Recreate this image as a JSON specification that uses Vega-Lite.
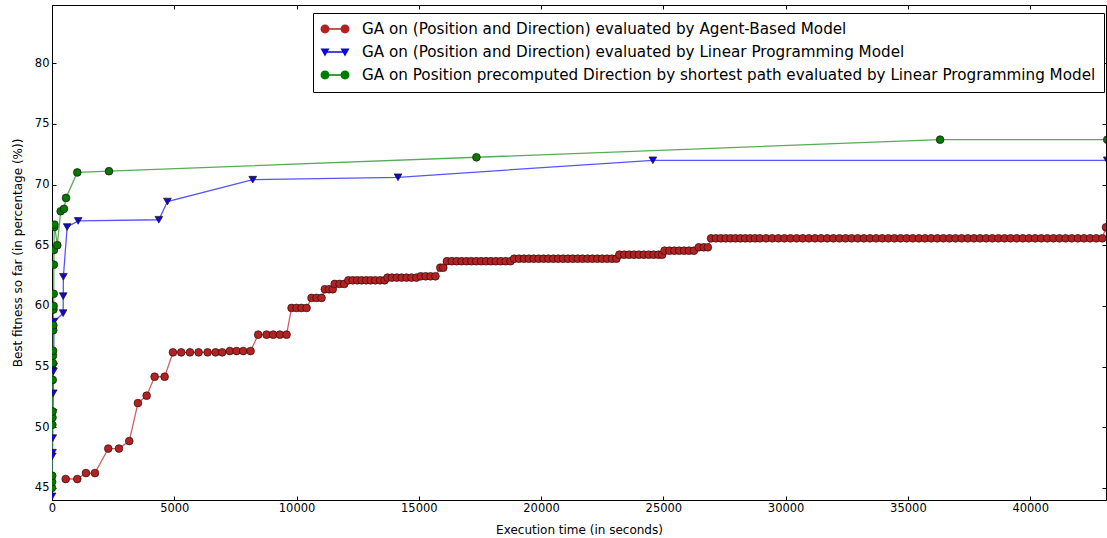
{
  "$schema": "https://vega.github.io/schema/vega-lite/v6.json",
  "width": 1054,
  "height": 495,
  "autosize": {"type": "none"},
  "padding": {"left": 52, "top": 5, "right": 1, "bottom": 38},
  "background": "white",
  "config": {
    "view": {"stroke": "black", "strokeWidth": 1},
    "font": "DejaVu Sans",
    "axis": {
      "grid": false,
      "domainColor": "black",
      "tickColor": "black",
      "labelColor": "black",
      "titleColor": "black",
      "labelFont": "DejaVu Sans",
      "titleFont": "DejaVu Sans",
      "labelFontSize": 11.5,
      "titleFontSize": 12,
      "titleFontWeight": "normal",
      "labelFlush": false,
      "labelOverlap": false
    }
  },
  "data": {
    "values": [
      {"s":"A","x":560,"y":45.73},{"s":"A","x":1034,"y":45.73},{"s":"A","x":1389,"y":46.22},{"s":"A","x":1757,"y":46.22},
      {"s":"A","x":2301,"y":48.24},{"s":"A","x":2738,"y":48.24},{"s":"A","x":3159,"y":48.86},{"s":"A","x":3514,"y":51.99},
      {"s":"A","x":3870,"y":52.6},{"s":"A","x":4197,"y":54.16},{"s":"A","x":4606,"y":54.16},{"s":"A","x":4945,"y":56.17},
      {"s":"A","x":5284,"y":56.17},{"s":"A","x":5640,"y":56.17},{"s":"A","x":5995,"y":56.17},{"s":"A","x":6363,"y":56.17},
      {"s":"A","x":6690,"y":56.17},{"s":"A","x":6960,"y":56.17},{"s":"A","x":7274,"y":56.28},{"s":"A","x":7548,"y":56.28},
      {"s":"A","x":7818,"y":56.28},{"s":"A","x":8120,"y":56.28},{"s":"A","x":8431,"y":57.63},{"s":"A","x":8774,"y":57.63},
      {"s":"A","x":9044,"y":57.63},{"s":"A","x":9318,"y":57.63},{"s":"A","x":9591,"y":57.63},{"s":"A","x":9796,"y":59.83},
      {"s":"A","x":10000,"y":59.83},{"s":"A","x":10204,"y":59.83},{"s":"A","x":10409,"y":59.83},{"s":"A","x":10613,"y":60.66},
      {"s":"A","x":10817,"y":60.66},{"s":"A","x":11022,"y":60.66},{"s":"A","x":11157,"y":61.37},{"s":"A","x":11330,"y":61.37},
      {"s":"A","x":11480,"y":61.37},{"s":"A","x":11560,"y":61.81},{"s":"A","x":11760,"y":61.81},{"s":"A","x":11950,"y":61.81},
      {"s":"A","x":12120,"y":62.11},{"s":"A","x":12300,"y":62.11},{"s":"A","x":12480,"y":62.11},{"s":"A","x":12660,"y":62.11},
      {"s":"A","x":12850,"y":62.11},{"s":"A","x":13030,"y":62.11},{"s":"A","x":13220,"y":62.11},{"s":"A","x":13420,"y":62.11},
      {"s":"A","x":13600,"y":62.11},{"s":"A","x":13720,"y":62.33},{"s":"A","x":13900,"y":62.33},{"s":"A","x":14100,"y":62.33},
      {"s":"A","x":14300,"y":62.33},{"s":"A","x":14500,"y":62.33},{"s":"A","x":14700,"y":62.33},{"s":"A","x":14900,"y":62.33},
      {"s":"A","x":15080,"y":62.44},{"s":"A","x":15280,"y":62.44},{"s":"A","x":15480,"y":62.44},{"s":"A","x":15680,"y":62.44},
      {"s":"A","x":15880,"y":63.15},{"s":"A","x":16000,"y":63.15},{"s":"A","x":16150,"y":63.68},{"s":"A","x":16350,"y":63.68},
      {"s":"A","x":16550,"y":63.68},{"s":"A","x":16750,"y":63.68},{"s":"A","x":16950,"y":63.68},{"s":"A","x":17150,"y":63.68},
      {"s":"A","x":17350,"y":63.68},{"s":"A","x":17550,"y":63.68},{"s":"A","x":17750,"y":63.68},{"s":"A","x":17950,"y":63.68},
      {"s":"A","x":18150,"y":63.68},{"s":"A","x":18350,"y":63.68},{"s":"A","x":18550,"y":63.68},{"s":"A","x":18750,"y":63.68},
      {"s":"A","x":18900,"y":63.89},{"s":"A","x":19100,"y":63.89},{"s":"A","x":19300,"y":63.89},{"s":"A","x":19500,"y":63.89},
      {"s":"A","x":19700,"y":63.89},{"s":"A","x":19900,"y":63.89},{"s":"A","x":20100,"y":63.89},{"s":"A","x":20300,"y":63.89},
      {"s":"A","x":20500,"y":63.89},{"s":"A","x":20700,"y":63.89},{"s":"A","x":20900,"y":63.89},{"s":"A","x":21100,"y":63.89},
      {"s":"A","x":21300,"y":63.89},{"s":"A","x":21500,"y":63.89},{"s":"A","x":21700,"y":63.89},{"s":"A","x":21900,"y":63.89},
      {"s":"A","x":22100,"y":63.89},{"s":"A","x":22300,"y":63.89},{"s":"A","x":22500,"y":63.89},{"s":"A","x":22700,"y":63.89},
      {"s":"A","x":22900,"y":63.89},{"s":"A","x":23080,"y":63.89},{"s":"A","x":23200,"y":64.22},{"s":"A","x":23400,"y":64.22},
      {"s":"A","x":23600,"y":64.22},{"s":"A","x":23800,"y":64.22},{"s":"A","x":24000,"y":64.22},{"s":"A","x":24200,"y":64.22},
      {"s":"A","x":24400,"y":64.22},{"s":"A","x":24600,"y":64.22},{"s":"A","x":24800,"y":64.22},{"s":"A","x":24950,"y":64.22},
      {"s":"A","x":25050,"y":64.55},{"s":"A","x":25250,"y":64.55},{"s":"A","x":25450,"y":64.55},{"s":"A","x":25650,"y":64.55},
      {"s":"A","x":25850,"y":64.55},{"s":"A","x":26050,"y":64.55},{"s":"A","x":26250,"y":64.55},{"s":"A","x":26450,"y":64.83},
      {"s":"A","x":26650,"y":64.83},{"s":"A","x":26820,"y":64.83},{"s":"A","x":26950,"y":65.57},{"s":"A","x":27150,"y":65.57},
      {"s":"A","x":27350,"y":65.57},{"s":"A","x":27550,"y":65.57},{"s":"A","x":27750,"y":65.57},{"s":"A","x":27950,"y":65.57},
      {"s":"A","x":28150,"y":65.57},{"s":"A","x":28350,"y":65.57},{"s":"A","x":28550,"y":65.57},{"s":"A","x":28750,"y":65.57},
      {"s":"A","x":28950,"y":65.57},{"s":"A","x":29200,"y":65.57},{"s":"A","x":29450,"y":65.57},{"s":"A","x":29700,"y":65.57},
      {"s":"A","x":29950,"y":65.57},{"s":"A","x":30200,"y":65.57},{"s":"A","x":30450,"y":65.57},{"s":"A","x":30700,"y":65.57},
      {"s":"A","x":30950,"y":65.57},{"s":"A","x":31200,"y":65.57},{"s":"A","x":31450,"y":65.57},{"s":"A","x":31700,"y":65.57},
      {"s":"A","x":31950,"y":65.57},{"s":"A","x":32200,"y":65.57},{"s":"A","x":32450,"y":65.57},{"s":"A","x":32700,"y":65.57},
      {"s":"A","x":32950,"y":65.57},{"s":"A","x":33200,"y":65.57},{"s":"A","x":33450,"y":65.57},{"s":"A","x":33700,"y":65.57},
      {"s":"A","x":33950,"y":65.57},{"s":"A","x":34200,"y":65.57},{"s":"A","x":34450,"y":65.57},{"s":"A","x":34700,"y":65.57},
      {"s":"A","x":34950,"y":65.57},{"s":"A","x":35200,"y":65.57},{"s":"A","x":35450,"y":65.57},{"s":"A","x":35700,"y":65.57},
      {"s":"A","x":35950,"y":65.57},{"s":"A","x":36200,"y":65.57},{"s":"A","x":36450,"y":65.57},{"s":"A","x":36700,"y":65.57},
      {"s":"A","x":36950,"y":65.57},{"s":"A","x":37200,"y":65.57},{"s":"A","x":37450,"y":65.57},{"s":"A","x":37700,"y":65.57},
      {"s":"A","x":37950,"y":65.57},{"s":"A","x":38200,"y":65.57},{"s":"A","x":38450,"y":65.57},{"s":"A","x":38700,"y":65.57},
      {"s":"A","x":38950,"y":65.57},{"s":"A","x":39200,"y":65.57},{"s":"A","x":39450,"y":65.57},{"s":"A","x":39700,"y":65.57},
      {"s":"A","x":39950,"y":65.57},{"s":"A","x":40200,"y":65.57},{"s":"A","x":40450,"y":65.57},{"s":"A","x":40700,"y":65.57},
      {"s":"A","x":40950,"y":65.57},{"s":"A","x":41200,"y":65.57},{"s":"A","x":41450,"y":65.57},{"s":"A","x":41700,"y":65.57},
      {"s":"A","x":41950,"y":65.57},{"s":"A","x":42200,"y":65.57},{"s":"A","x":42450,"y":65.57},{"s":"A","x":42700,"y":65.57},
      {"s":"A","x":42950,"y":65.57},{"s":"A","x":43100,"y":66.48},
      {"s":"B","x":0,"y":44.3},{"s":"B","x":10,"y":47.6},{"s":"B","x":20,"y":47.9},{"s":"B","x":30,"y":49.1},
      {"s":"B","x":40,"y":51.2},{"s":"B","x":50,"y":52.8},{"s":"B","x":60,"y":54.6},{"s":"B","x":70,"y":55.0},
      {"s":"B","x":80,"y":58.7},{"s":"B","x":455,"y":59.4},{"s":"B","x":460,"y":60.8},{"s":"B","x":465,"y":62.4},
      {"s":"B","x":620,"y":66.5},{"s":"B","x":1070,"y":67.0},{"s":"B","x":4370,"y":67.1},{"s":"B","x":4720,"y":68.6},
      {"s":"B","x":8210,"y":70.4},{"s":"B","x":14150,"y":70.6},{"s":"B","x":24570,"y":72.0},{"s":"B","x":43150,"y":72.0},
      {"s":"C","x":0,"y":45.0},{"s":"C","x":5,"y":45.5},{"s":"C","x":10,"y":46.0},{"s":"C","x":15,"y":50.2},
      {"s":"C","x":20,"y":50.8},{"s":"C","x":25,"y":51.3},{"s":"C","x":30,"y":53.9},{"s":"C","x":35,"y":55.3},
      {"s":"C","x":40,"y":55.9},{"s":"C","x":45,"y":56.3},{"s":"C","x":50,"y":58.0},{"s":"C","x":55,"y":58.4},
      {"s":"C","x":60,"y":59.7},{"s":"C","x":65,"y":60.0},{"s":"C","x":70,"y":61.0},{"s":"C","x":75,"y":63.4},
      {"s":"C","x":80,"y":64.6},{"s":"C","x":90,"y":66.5},{"s":"C","x":100,"y":66.7},{"s":"C","x":217,"y":65.0},
      {"s":"C","x":355,"y":67.8},{"s":"C","x":490,"y":68.0},{"s":"C","x":572,"y":68.9},{"s":"C","x":1034,"y":71.0},
      {"s":"C","x":2330,"y":71.1},{"s":"C","x":17355,"y":72.25},{"s":"C","x":36317,"y":73.7},{"s":"C","x":43150,"y":73.7}
    ]
  },
  "layer": [
    {
      "mark": {"type": "line", "strokeWidth": 1.3, "opacity": 0.8, "clip": true},
      "encoding": {
        "x": {
          "field": "x", "type": "quantitative",
          "scale": {"domain": [0, 43100], "nice": false, "zero": false},
          "axis": {"orient": "bottom", "values": [0,5000,10000,15000,20000,25000,30000,35000,40000], "format": "d", "tickSize": -4, "labelPadding": 6, "title": "Execution time (in seconds)", "titlePadding": 11}
        },
        "y": {
          "field": "y", "type": "quantitative",
          "scale": {"domain": [44.0, 84.8], "nice": false, "zero": false},
          "axis": {"orient": "left", "values": [45,50,55,60,65,70,75,80], "tickSize": -4, "labelPadding": 7, "title": "Best fitness so far (in percentage (%))", "titlePadding": 10}
        },
        "stroke": {
          "field": "s", "type": "nominal",
          "scale": {"range": ["#c43a3a","#2a2aff","#2e962e"]},
          "legend": null
        }
      }
    },
    {
      "mark": {"type": "point", "filled": true, "size": 60, "opacity": 1, "stroke": "#2a0a0a", "strokeWidth": 0.8, "strokeOpacity": 0.85, "clip": true},
      "encoding": {
        "x": {"field": "x", "type": "quantitative", "axis": null},
        "y": {"field": "y", "type": "quantitative", "axis": null},
        "fill": {
          "field": "s", "type": "nominal",
          "scale": {"domain": ["A","B","C"], "range": ["#b22222","#0a0ad8","#007a00"]}
        },
        "shape": {
          "condition": {"test": "datum.s === 'B'", "value": "triangle-down"},
          "value": "circle"
        }
      }
    },
    {
      "transform": [{"filter": "datum.x < 0"}],
      "mark": {"type": "point", "filled": true, "opacity": 1},
      "encoding": {
        "x": {"field": "x", "type": "quantitative", "axis": {"orient": "top", "labels": false, "title": null, "domain": false, "tickSize": -4, "values": [0,5000,10000,15000,20000,25000,30000,35000,40000]}},
        "y": {"field": "y", "type": "quantitative", "axis": {"orient": "right", "labels": false, "title": null, "domain": false, "tickSize": -4, "values": [45,50,55,60,65,70,75,80]}},
        "fill": {"field": "s", "type": "nominal"},
        "shape": {
          "field": "s", "type": "nominal",
          "scale": {"domain": ["A","B","C"], "range": [
            "M-0.7,-0.09H0.7V0.09H-0.7ZM-1.81,0a0.56,0.56 0 1,1 1.12,0a0.56,0.56 0 1,1 -1.12,0ZM0.69,0a0.56,0.56 0 1,1 1.12,0a0.56,0.56 0 1,1 -1.12,0Z",
            "M-1.0,-0.09H1.0V0.09H-1.0ZM-1.81,-0.45L-0.69,-0.45L-1.25,0.55ZM0.69,-0.45L1.81,-0.45L1.25,0.55Z",
            "M-0.7,-0.09H0.7V0.09H-0.7ZM-1.81,0a0.56,0.56 0 1,1 1.12,0a0.56,0.56 0 1,1 -1.12,0ZM0.69,0a0.56,0.56 0 1,1 1.12,0a0.56,0.56 0 1,1 -1.12,0Z"
          ]},
          "legend": {
            "orient": "none", "legendX": 261, "legendY": 8,
            "title": null,
            "strokeColor": "black", "fillColor": "white", "cornerRadius": 0,
            "padding": 8, "symbolSize": 256, "symbolOffset": 6, "labelOffset": 19,
            "rowPadding": 6, "labelFontSize": 15.2, "labelFont": "DejaVu Sans", "labelColor": "black",
            "labelLimit": 1000, "symbolStrokeWidth": 0, "symbolOpacity": 1,
            "labelExpr": "datum.value === 'A' ? 'GA on (Position and Direction) evaluated by Agent-Based Model' : datum.value === 'B' ? 'GA on (Position and Direction) evaluated by Linear Programming Model' : 'GA on Position precomputed Direction by shortest path evaluated by Linear Programming Model'"
          }
        }
      }
    }
  ],
  "resolve": {"axis": {"x": "independent", "y": "independent"}}
}
